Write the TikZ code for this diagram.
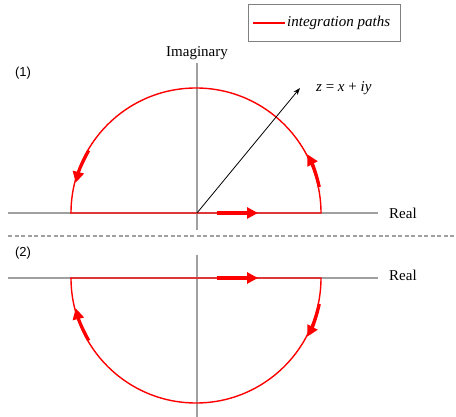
\documentclass[tikz,border=0pt]{standalone}
\usepackage{fontspec}
\setmainfont{Liberation Serif}
\newfontfamily\labsans{Liberation Sans}
\usetikzlibrary{arrows.meta}
\definecolor{axgray}{RGB}{160,160,160}
\definecolor{pathred}{RGB}{255,0,0}
\begin{document}
\begin{tikzpicture}[x=1pt,y=1pt,
  axis/.style={draw=axgray,line width=1.2pt},
  redpath/.style={draw=pathred,line width=1.4pt},
  dirarrow/.style={draw=pathred,line width=3.2pt,-{Triangle[length=11pt,width=11pt]}},
  lbl/.style={inner sep=0pt,font=\fontsize{15}{17}\selectfont},
  num/.style={inner sep=0pt,font=\labsans\fontsize{13}{15}\selectfont}]
\useasboundingbox (0,0) rectangle (456,417);
% ---- panel 1 ----
\coordinate (c1) at (197,204);
\draw[axis] (8,204) -- (378,204);
\draw[axis] (197,354) -- (197,187);
\draw[redpath] (70,204) -- (321,204) arc (0:180:125) -- cycle;
\draw[dirarrow] (217,204) -- (258,204);
\draw[dirarrow] ([shift={(12:125)}]c1) arc (12:28:125);
\draw[dirarrow] ([shift={(150:125)}]c1) arc (150:166:125);
\coordinate (ztip) at (300,329);
\draw[black,line width=0.8pt,-{Stealth[length=7pt,width=5pt]}] (c1) -- (ztip);
\node[lbl,anchor=west] (zl) at (316,329) {\itshape z\/ \upshape= \itshape x\/ \upshape+ \itshape iy};
\node[lbl] (im) at (197,364) {Imaginary};
\node[lbl,anchor=west] (re1) at (389,204) {Real};
\node[num] (n1) at (23,344) {(1)};
% ---- separator ----
\draw[axgray,line width=1.2pt,dash pattern=on 4pt off 2.5pt] (8,181) -- (456,181);
% ---- panel 2 ----
\coordinate (c2) at (197,139);
\draw[axis] (8,139) -- (378,139);
\draw[axis] (197,162) -- (197,0);
\draw[redpath] (70,139) -- (321,139) arc (0:-180:125) -- cycle;
\draw[dirarrow] (217,139) -- (258,139);
\draw[dirarrow] ([shift={(-12:125)}]c2) arc (-12:-28:125);
\draw[dirarrow] ([shift={(-150:125)}]c2) arc (-150:-166:125);
\node[lbl,anchor=west] (re2) at (389,142) {Real};
\node[num] (n2) at (23,164) {(2)};
% ---- legend ----
\draw[draw=gray,line width=0.8pt] (248,376) rectangle (400,413);
\draw[redpath,line width=1.6pt] (253,394) -- (285,394);
\node[inner sep=0pt,anchor=west,font=\itshape\fontsize{15}{17}\selectfont] (leg) at (287,394) {integration paths};
\end{tikzpicture}
\end{document}
